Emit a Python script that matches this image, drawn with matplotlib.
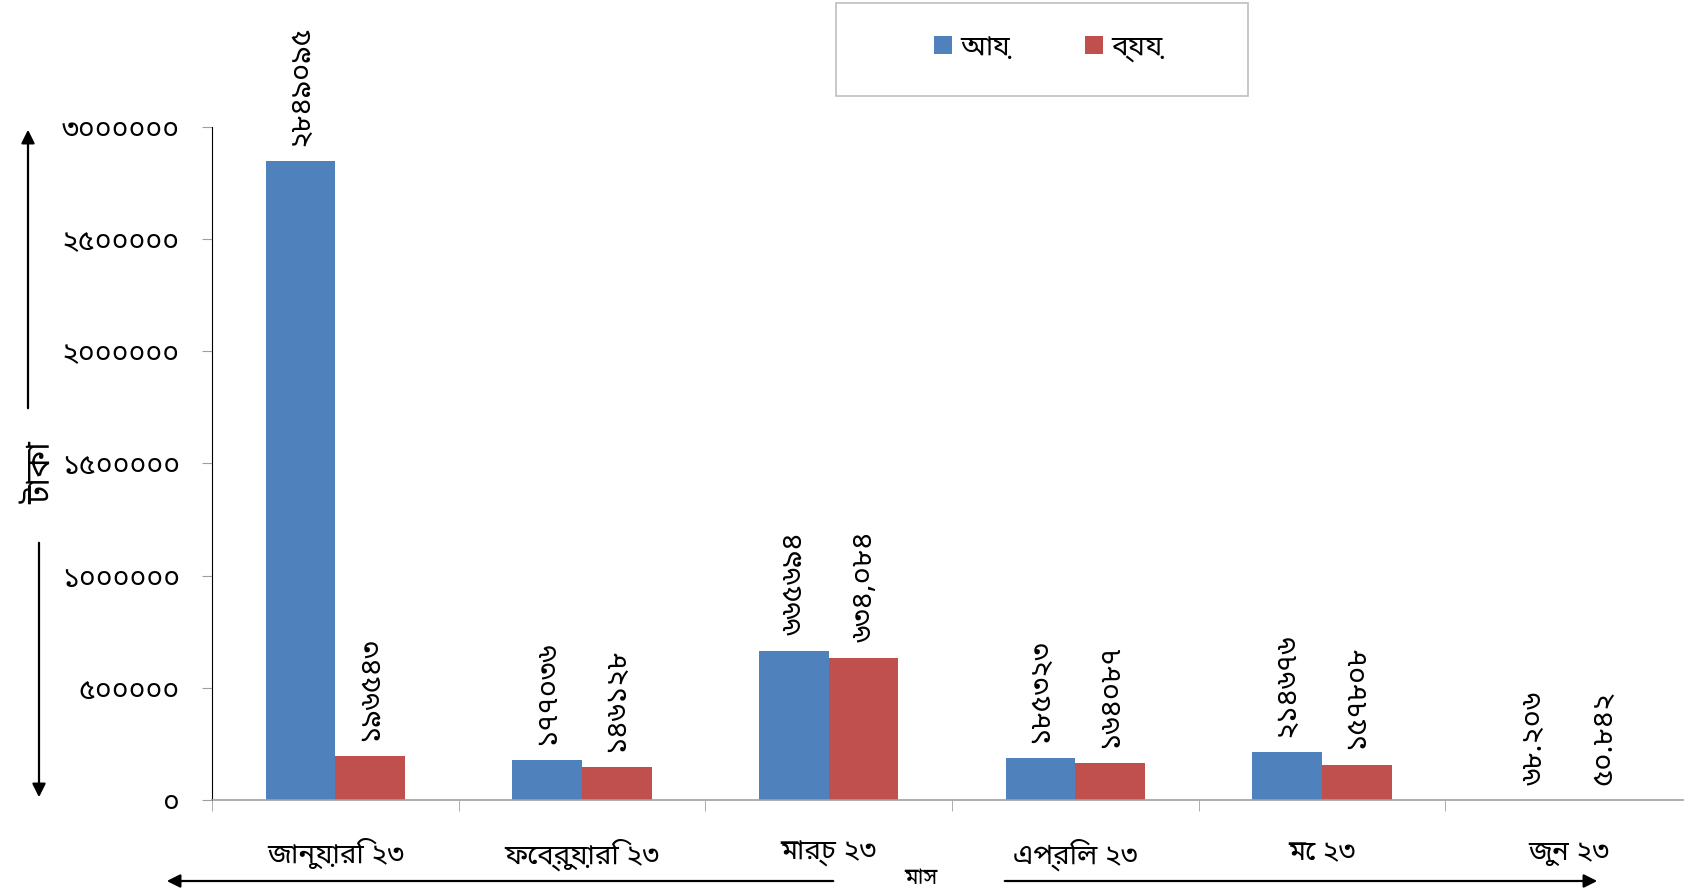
import matplotlib
matplotlib.use('Agg')
import matplotlib.pyplot as plt
import numpy as np
from matplotlib.patches import Rectangle, FancyArrowPatch

plt.rcParams['font.family'] = ['Noto Sans Bengali', 'DejaVu Sans']

# data
months = ['জানুয়ারি ২৩', 'ফেব্রুয়ারি ২৩', 'মার্চ ২৩', 'এপ্রিল ২৩', 'মে ২৩', 'জুন ২৩']
income = [2849095, 177036, 665694, 185323, 214676, 68.206]
expense = [196543, 146128, 634084, 164087, 157808, 50.842]
income_labels = ['২৮৪৯০৯৫', '১৭৭০৩৬', '৬৬৫৬৯৪', '১৮৫৩২৩', '২১৪৬৭৬', '৬৮.২০৬']
expense_labels = ['১৯৬৫৪৩', '১৪৬১২৮', '৬৩৪,০৮৪', '১৬৪০৮৭', '১৫৭৮০৮', '৫০.৮৪২']
yticks = [0, 500000, 1000000, 1500000, 2000000, 2500000, 3000000]

bn = str.maketrans('0123456789', '০১২৩৪৫৬৭৮৯')

W, H = 1684, 892
fig = plt.figure(figsize=(W / 100, H / 100), dpi=100)
ax = fig.add_axes([212 / W, 92 / H, 1480 / W, 673 / H])

x = np.arange(len(months))
bw = 0.283
b1 = ax.bar(x - bw / 2, income, bw, color='#4F81BD', label='আয়')
b2 = ax.bar(x + bw / 2, expense, bw, color='#C0504D', label='ব্যয়')

for bars, labs in [(b1, income_labels), (b2, expense_labels)]:
    for r, t in zip(bars, labs):
        ax.annotate(t, (r.get_x() + r.get_width() / 2, r.get_height()),
                    xytext=(0, 11), textcoords='offset points',
                    rotation=90, ha='center', va='bottom', fontsize=21)

ax.set_xlim(-0.5, len(months) - 0.5)
ax.set_ylim(0, 3000000)
ax.set_yticks(yticks)
ax.set_yticklabels([str(v).translate(bn) for v in yticks], fontsize=20.5)
ax.set_xticks(x)
ax.set_xticklabels(months, fontsize=20)
ax.set_xticks(np.arange(len(months) + 1) - 0.5, minor=True)
ax.tick_params(axis='x', which='major', length=0, pad=28)
ax.tick_params(axis='x', which='minor', length=8, color='#A0A0A0', direction='out')
ax.tick_params(axis='y', length=7, color='#A0A0A0', pad=16)

for s in ['top', 'right']:
    ax.spines[s].set_visible(False)
ax.spines['left'].set_color('black')
ax.spines['bottom'].set_color('#A0A0A0')
ax.spines['bottom'].set_linewidth(1.2)


def fx(px):
    return px / W


def fy(py):
    return 1 - py / H


def arrow(x0, y0, x1, y1):
    a = FancyArrowPatch((fx(x0), fy(y0)), (fx(x1), fy(y1)), transform=fig.transFigure,
                        arrowstyle='-|>', mutation_scale=20, lw=1.6, color='black')
    fig.add_artist(a)


# axis titles with arrows
fig.text(fx(42), fy(473), 'টাকা', rotation=90, ha='center', va='center', fontsize=24)
arrow(28, 411, 28, 127)
arrow(39, 540, 39, 800)
fig.text(fx(921), fy(879), 'মাস', ha='center', va='center', fontsize=16)
arrow(836, 881, 164, 881)
arrow(1002, 881, 1600, 881)

# legend box
fig.add_artist(Rectangle((fx(836), fy(96)), (1248 - 836) / W, 93 / H,
                         transform=fig.transFigure, fill=False, edgecolor='#BFBFBF', lw=1.2))
leg = fig.legend(handles=[b1, b2], loc='center', bbox_to_anchor=(fx(1048), fy(48)),
                 ncol=2, frameon=False, handlelength=0.65, handleheight=0.65,
                 handletextpad=0.3, columnspacing=2.7, prop={'size': 20, 'weight': 'bold'})

fig.savefig('out.png', dpi=100)
